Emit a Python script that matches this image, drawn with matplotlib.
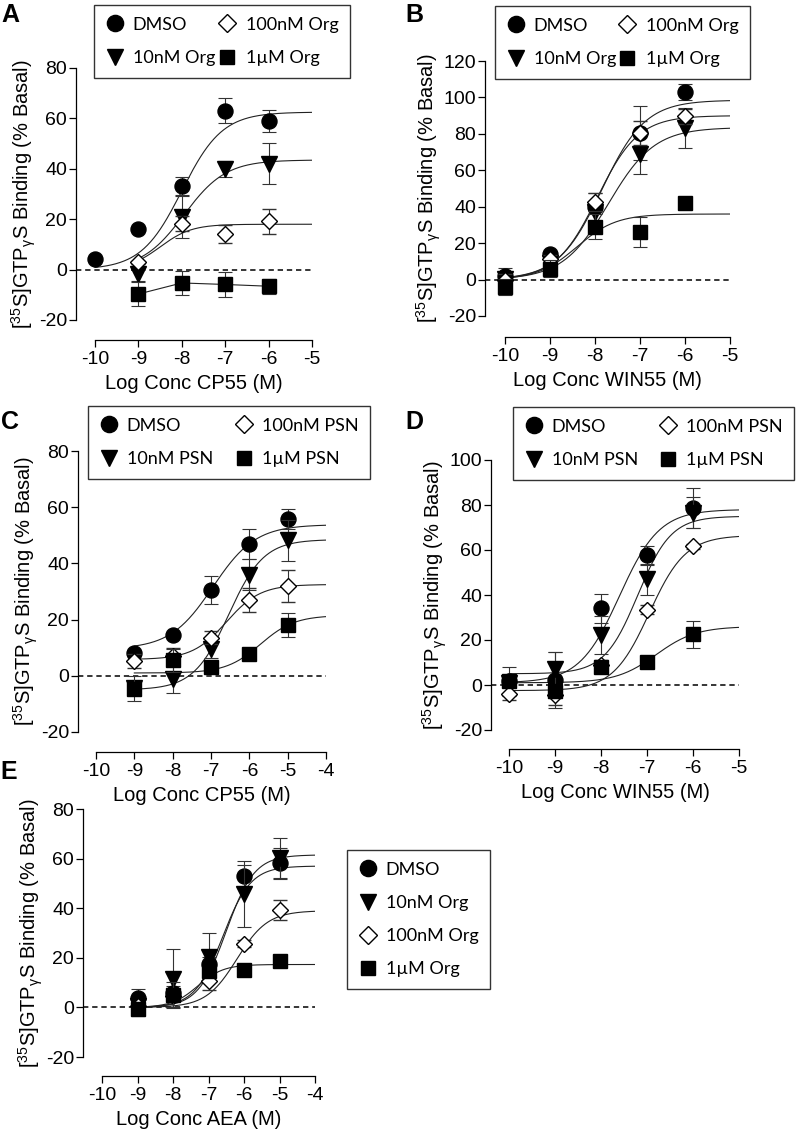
import numpy as np
import matplotlib
matplotlib.use('Agg')
import matplotlib.pyplot as plt
from matplotlib.lines import Line2D

nan = np.nan

# ---- panel A: CP55 + Org ----
a_x = [-10, -9, -8, -7, -6]
a_dmso = [4.2, 16.3, 33.2, 63.0, 59.0]
a_dmso_err = [0.5, 0.5, 3.4, 4.9, 4.3]
a_10nm = [nan, -1.6, 20.8, 39.9, 42.1]
a_10nm_err = [nan, 3.0, 8.3, 3.0, 8.0]
a_100nm = [nan, 2.9, 18.2, 14.1, 19.2]
a_100nm_err = [nan, 0.5, 3.0, 3.7, 5.0]
a_1um = [nan, -9.7, -5.3, -5.9, -6.6]
a_1um_err = [nan, 4.8, 4.7, 4.9, 3.0]
# fit params: bottom, top, logEC50, hill
a_fit_dmso = [0, 62.5, -8.0, 0.93]
a_fit_10nm = [0, 43.5, -7.95, 0.9]
a_fit_100nm = [0, 18.0, -8.5, 1.2]

# ---- panel B: WIN55 + Org ----
b_x = [-10, -9, -8, -7, -6]
b_dmso = [2.2, 13.8, 39.6, 80.5, 103.0]
b_dmso_err = [4.0, 2.0, 8.0, 15.0, 4.5]
b_10nm = [0.5, 9.0, 37.0, 68.7, 83.3]
b_10nm_err = [3.0, 3.0, 5.0, 10.5, 11.0]
b_100nm = [0.0, 11.5, 42.4, 80.5, 89.6]
b_100nm_err = [3.0, 2.0, 5.0, 6.5, 4.0]
b_1um = [-4.0, 6.0, 29.1, 26.0, 41.8]
b_1um_err = [4.5, 4.5, 6.8, 8.2, 1.5]
b_fit_dmso = [0, 98.5, -7.85, 0.9]
b_fit_10nm = [0, 83.5, -7.7, 0.85]
b_fit_100nm = [0, 90.0, -7.95, 0.95]
b_fit_1um = [0, 36.0, -8.4, 1.0]

# ---- panel C: CP55 + PSN ----
c_x = [-9, -8, -7, -6, -5]
c_dmso = [8.2, 14.6, 30.6, 46.9, 55.7]
c_dmso_err = [1.0, 1.0, 5.0, 5.3, 3.6]
c_10nm = [-4.5, -1.3, 9.4, 36.0, 48.3]
c_10nm_err = [1.0, 4.7, 3.0, 5.5, 7.3]
c_100nm = [5.3, 7.0, 13.5, 26.9, 32.0]
c_100nm_err = [2.5, 3.0, 2.3, 4.2, 5.8]
c_1um = [-4.6, 5.5, 3.2, 7.9, 18.0]
c_1um_err = [4.4, 4.0, 1.0, 1.0, 4.2]
c_fit_dmso = [9.5, 53.8, -6.95, 0.78]
c_fit_10nm = [-5.0, 48.5, -6.54, 0.95]
c_fit_100nm = [5.8, 32.5, -6.6, 0.98]
c_fit_1um = [1.0, 21.5, -5.71, 0.97]

# ---- panel D: WIN55 + PSN ----
d_x = [-10, -9, -8, -7, -6]
d_dmso = [1.6, 2.4, 34.1, 57.6, 78.8]
d_dmso_err = [6.4, 12.4, 6.5, 4.3, 8.8]
d_10nm = [1.0, 7.0, 22.2, 47.0, 76.6]
d_10nm_err = [1.5, 7.6, 8.5, 6.9, 7.0]
d_100nm = [-3.8, -4.3, 9.0, 33.5, 61.6]
d_100nm_err = [3.0, 4.4, 2.0, 2.0, 1.0]
d_1um = [1.6, -2.8, 7.9, 10.1, 22.6]
d_1um_err = [2.0, 3.0, 1.0, 1.0, 6.0]
d_fit_dmso = [1.0, 78.0, -7.6, 1.0]
d_fit_10nm = [5.0, 75.0, -7.2, 1.2]
d_fit_100nm = [-2.5, 66.5, -6.95, 1.1]
d_fit_1um = [1.0, 26.0, -6.8, 1.0]

# ---- panel E: AEA + Org ----
e_x = [-9, -8, -7, -6, -5]
e_dmso = [3.8, 5.8, 17.3, 53.1, 58.2]
e_dmso_err = [3.6, 3.0, 3.0, 4.5, 6.0]
e_10nm = [0.4, 11.5, 20.4, 45.7, 60.1]
e_10nm_err = [2.0, 11.9, 9.5, 13.3, 8.3]
e_100nm = [0.4, 4.5, 10.5, 25.7, 39.3]
e_100nm_err = [1.0, 2.0, 3.3, 1.5, 4.2]
e_1um = [-0.7, 5.1, 14.6, 15.0, 18.6]
e_1um_err = [2.9, 5.0, 2.0, 1.0, 2.0]
e_fit_dmso = [0, 57.0, -6.6, 1.1]
e_fit_10nm = [0, 61.5, -6.5, 1.1]
e_fit_100nm = [0, 39.0, -6.2, 1.0]
e_fit_1um = [0, 17.3, -7.3, 1.2]

org_labels = ['DMSO', '10nM Org', '100nM Org', '1\u00b5M Org']
psn_labels = ['DMSO', '10nM PSN', '100nM PSN', '1\u00b5M PSN']

W, H = 797, 1132
plt.rcParams['font.family'] = ['Liberation Sans', 'DejaVu Sans']
plt.rcParams['axes.unicode_minus'] = False
LEGFONT = ['Lato', 'DejaVu Sans']

# marker styles for DMSO, 10nM, 100nM, 1uM
styles = [dict(marker='o', ms=10.8, mfc='black', mec='black'),
          dict(marker='v', ms=11, mfc='black', mec='black'),
          dict(marker='D', ms=8.4, mfc='white', mec='black', mew=1.0),
          dict(marker='s', ms=9.5, mfc='black', mec='black')]

ylab = '[$\\mathregular{^{35}}$S]GTP$\\mathregular{_{\u03b3}}$S Binding (% Basal)'


def logistic(x, p):
    bottom, top, c, h = p
    return bottom + (top - bottom) / (1 + 10 ** (h * (c - x)))


def make_axes(fig, yax_x, xax_y, x0, px0, x1, px1, y0, py0, y1, py1):
    # place axes so that data values land on the measured pixel positions
    sx = (px1 - px0) / (x1 - x0)
    sy = (py0 - py1) / (y1 - y0)
    xl = x0 - (px0 - yax_x) / sx
    yl = y0 - (xax_y - py0) / sy
    ax = fig.add_axes([yax_x / W, 1 - xax_y / H, (px1 - yax_x) / W, (xax_y - py1) / H])
    ax.set_xlim(xl, x1)
    ax.set_ylim(yl, y1)
    for s in ['top', 'right']:
        ax.spines[s].set_visible(False)
    ax.spines['left'].set_bounds(y0, y1)
    ax.spines['bottom'].set_bounds(x0, x1)
    for s in ['left', 'bottom']:
        ax.spines[s].set_linewidth(0.9)
    ax.tick_params(direction='out', length=5, width=0.9, labelsize=14)
    ax.tick_params(axis='x', pad=3)
    ax.tick_params(axis='y', pad=1.5)
    ax.set_ylabel(ylab, fontsize=14.5, labelpad=0.5)
    ax.yaxis.label.set_y(((y0 + y1) / 2 - yl) / (y1 - yl))
    ax.xaxis.label.set_x(((x0 + x1) / 2 - xl) / (x1 - xl))
    return ax


def draw(ax, x, ys, errs, fits, xr, connect_last=False):
    x = np.array(x, dtype=float)
    xx = np.linspace(xr[0], xr[1], 200)
    for p, (start, stop) in fits:
        m = (xx >= start) & (xx <= stop)
        ax.plot(xx[m], logistic(xx[m], p), color='#222222', lw=0.8, zorder=2)
    ax.plot([ax.get_xlim()[0], xr[1]], [0, 0], color='black', lw=1.1,
            ls=(0, (3.5, 2.5)), zorder=1)
    for i, (y, e) in enumerate(zip(ys, errs)):
        ls = '-' if (connect_last and i == 3) else 'none'
        ax.errorbar(x, y, yerr=e, linestyle=ls, lw=0.8, color='#222222',
                    ecolor='#333333', elinewidth=0.8, capsize=4.7, capthick=0.8,
                    zorder=3 + i, clip_on=False, **styles[i])


def legend(fig, labels, order, box, ncol):
    hs = [Line2D([], [], linestyle='none', **styles[i]) for i in order]
    for h in hs:
        h.set_markersize(h.get_markersize() * 1.08)
    labs = [labels[i] for i in order]
    x0, y0, x1 = box
    kw = dict(loc='upper left', ncol=ncol, frameon=True, fancybox=False,
              handlelength=1.0, handletextpad=0.5, borderpad=0.65,
              labelspacing=0.95, columnspacing=1.0, borderaxespad=0,
              prop=dict(family=LEGFONT, size=13))
    if ncol == 2:
        leg = fig.legend(hs, labs, bbox_to_anchor=(x0 / W, 1 - y0 / H, (x1 - x0) / W, 0),
                         mode='expand', **kw)
    else:
        leg = fig.legend(hs, labs, bbox_to_anchor=(x0 / W, 1 - y0 / H), **kw)
    leg.get_frame().set_edgecolor('black')
    leg.get_frame().set_linewidth(1.0)
    return leg


fig = plt.figure(figsize=(W / 100, H / 100), dpi=100)

# A
ax = make_axes(fig, 76, 340, -10, 95, -5, 312, -20, 320, 80, 68)
draw(ax, a_x, [a_dmso, a_10nm, a_100nm, a_1um], [a_dmso_err, a_10nm_err, a_100nm_err, a_1um_err],
     [(a_fit_dmso, (-10, -5)), (a_fit_10nm, (-9, -5)), (a_fit_100nm, (-9, -5))], (-10, -5),
     connect_last=True)
ax.set_xticks(range(-10, -4))
ax.set_yticks(range(-20, 81, 20))
ax.set_xlabel('Log Conc CP55 (M)', fontsize=14.5, labelpad=4)
legend(fig, org_labels, [0, 1, 2, 3], (94, 5, 350), 2)

# B
ax = make_axes(fig, 485, 337, -10, 505, -5, 730, -20, 316, 120, 61)
draw(ax, b_x, [b_dmso, b_10nm, b_100nm, b_1um], [b_dmso_err, b_10nm_err, b_100nm_err, b_1um_err],
     [(b_fit_dmso, (-10, -5)), (b_fit_10nm, (-10, -5)), (b_fit_100nm, (-10, -5)),
      (b_fit_1um, (-10, -5))], (-10, -5))
ax.set_xticks(range(-10, -4))
ax.set_yticks(range(-20, 121, 20))
ax.set_xlabel('Log Conc WIN55 (M)', fontsize=14.5, labelpad=4)
legend(fig, org_labels, [0, 1, 2, 3], (495, 6, 750), 2)

# C
ax = make_axes(fig, 78, 752, -10, 96, -4, 326, -20, 732, 80, 451)
draw(ax, c_x, [c_dmso, c_10nm, c_100nm, c_1um], [c_dmso_err, c_10nm_err, c_100nm_err, c_1um_err],
     [(c_fit_dmso, (-9, -4)), (c_fit_10nm, (-9, -4)), (c_fit_100nm, (-9, -4)),
      (c_fit_1um, (-9, -4))], (-9, -4))
ax.set_xticks(range(-10, -3))
ax.set_yticks(range(-20, 81, 20))
ax.set_xlabel('Log Conc CP55 (M)', fontsize=14.5, labelpad=4)
legend(fig, psn_labels, [0, 1, 2, 3], (88, 406, 370), 2)

# D
ax = make_axes(fig, 491, 749, -10, 509, -5, 739, -20, 730, 100, 460)
draw(ax, d_x, [d_dmso, d_10nm, d_100nm, d_1um], [d_dmso_err, d_10nm_err, d_100nm_err, d_1um_err],
     [(d_fit_dmso, (-10, -5)), (d_fit_10nm, (-10, -5)), (d_fit_100nm, (-10, -5)),
      (d_fit_1um, (-10, -5))], (-10, -5))
ax.set_xticks(range(-10, -4))
ax.set_yticks(range(-20, 101, 20))
ax.set_xlabel('Log Conc WIN55 (M)', fontsize=14.5, labelpad=4)
legend(fig, psn_labels, [0, 1, 2, 3], (513, 407, 794), 2)

# E
ax = make_axes(fig, 83, 1076, -10, 102, -4, 315, -20, 1057, 80, 809)
draw(ax, e_x, [e_dmso, e_10nm, e_100nm, e_1um], [e_dmso_err, e_10nm_err, e_100nm_err, e_1um_err],
     [(e_fit_dmso, (-9, -4)), (e_fit_10nm, (-9, -4)), (e_fit_100nm, (-9, -4)),
      (e_fit_1um, (-9, -4))], (-9, -4))
ax.set_xticks(range(-10, -3))
ax.set_yticks(range(-20, 81, 20))
ax.set_xlabel('Log Conc AEA (M)', fontsize=14.5, labelpad=4)
legend(fig, org_labels, [0, 1, 2, 3], (347, 850, 479), 1)

# panel letters
for lab, px, py in [('A', 1, 3), ('B', 405, 3), ('C', 1, 410), ('D', 405, 410), ('E', 0, 760)]:
    fig.text(px / W, 1 - py / H, lab, fontsize=18, fontweight='bold', ha='left', va='top')

fig.savefig('out.png', dpi=100)
